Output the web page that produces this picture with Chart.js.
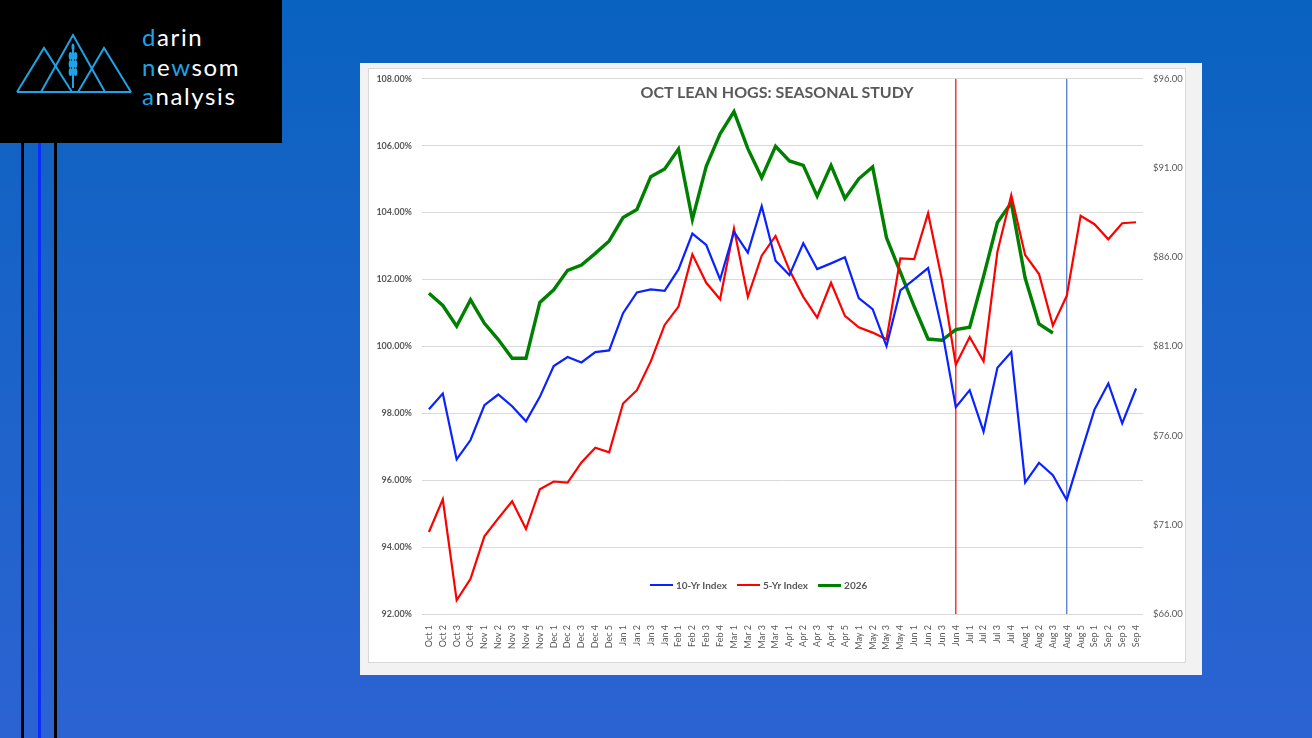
<!DOCTYPE html>
<html>
<head>
<meta charset="utf-8">
<title>Oct Lean Hogs: Seasonal Study</title>
<script src="https://cdn.jsdelivr.net/npm/chart.js@4.4.1/dist/chart.umd.min.js"></script>
<style>
  html, body { margin: 0; padding: 0; }
  body {
    width: 1312px; height: 738px; overflow: hidden; position: relative;
    background: linear-gradient(180deg, #0a62c0 0%, #1c63c9 50%, #2c63d3 100%);
    font-family: Lato, "Open Sans", sans-serif;
  }
  #logo { position: absolute; left: 0; top: 0; width: 282px; height: 143px; background: #000; }
  #logo .brand { position: absolute; left: 142px; top: 22px; color: #fff; font-size: 24px; line-height: 29.5px;
    font-weight: 400; letter-spacing: 1.6px; }
  #logo .brand b { color: #1ea3e6; font-weight: 400; }
  .vbar { position: absolute; top: 143px; bottom: 0; width: 3px; }
  #frame { position: absolute; left: 360px; top: 63px; width: 842px; height: 612px; background: #f2f2f2; }
  #inner { position: absolute; left: 368px; top: 68px; width: 816px; height: 593px; background: #fff; border: 1px solid #d9d9d9; }
  #chartTitle { position: absolute; left: 577px; width: 400px; top: 82px; text-align: center;
    font-weight: bold; font-size: 16px; color: #595959; }
  #legend { position: absolute; left: 640px; top: 578px; font-size: 10px; font-weight: bold; color: #595959; white-space: nowrap; }
  #legend span { display: inline-block; vertical-align: middle; }
  #legend .sw { width: 23px; margin: 0 3px 0 10px; }
</style>
</head>
<body>

<div id="logo">
  <svg width="140" height="143" style="position:absolute;left:0;top:0">
    <g fill="none" stroke="#1ea3e6" stroke-width="2">
      <path d="M17 92 L44 48 L72 92"/>
      <path d="M41 92 L73 35 L105 92"/>
      <path d="M78 92 L104 48 L131 92"/>
      <path d="M17 92 L131 92"/>
      <path d="M73 50 L73 88"/>
    </g>
    <g fill="#1ea3e6">
      <ellipse cx="70.5" cy="56" rx="1.8" ry="4"/><ellipse cx="75.5" cy="56" rx="1.8" ry="4"/>
      <ellipse cx="70.5" cy="64" rx="1.8" ry="4"/><ellipse cx="75.5" cy="64" rx="1.8" ry="4"/>
      <ellipse cx="70.5" cy="72" rx="1.8" ry="4"/><ellipse cx="75.5" cy="72" rx="1.8" ry="4"/>
      <ellipse cx="73" cy="47" rx="1.5" ry="3.5"/>
    </g>
  </svg>
  <div class="brand"><b>d</b>arin<br><b>n</b>e<b>w</b>som<br><b>a</b>nalysis</div>
</div>
<div class="vbar" style="left:21px;background:#000"></div>
<div class="vbar" style="left:38px;background:#0a2cff"></div>
<div class="vbar" style="left:54px;background:#000"></div>

<div id="frame"></div>
<div id="inner"></div>
<canvas id="seasonal" width="840" height="599" style="position:absolute;left:368px;top:63px"></canvas>
<div id="chartTitle">OCT LEAN HOGS: SEASONAL STUDY</div>
<div id="legend"></div>

<script>
// week labels, Oct through Sep
var weeks = ["Oct 1","Oct 2","Oct 3","Oct 4","Nov 1","Nov 2","Nov 3","Nov 4","Nov 5",
  "Dec 1","Dec 2","Dec 3","Dec 4","Dec 5","Jan 1","Jan 2","Jan 3","Jan 4",
  "Feb 1","Feb 2","Feb 3","Feb 4","Mar 1","Mar 2","Mar 3","Mar 4",
  "Apr 1","Apr 2","Apr 3","Apr 4","Apr 5","May 1","May 2","May 3","May 4",
  "Jun 1","Jun 2","Jun 3","Jun 4","Jul 1","Jul 2","Jul 3","Jul 4",
  "Aug 1","Aug 2","Aug 3","Aug 4","Aug 5","Sep 1","Sep 2","Sep 3","Sep 4"];

// index values (%)
var index10yr = [98.12,98.59,96.62,97.20,98.24,98.56,98.21,97.76,98.49,
  99.41,99.68,99.52,99.83,99.88,100.99,101.61,101.70,101.66,
  102.30,103.37,103.03,102.00,103.42,102.80,104.19,102.56,
  102.13,103.08,102.31,102.48,102.66,101.44,101.11,100.01,101.67,
  102.00,102.34,100.50,98.18,98.69,97.45,99.36,99.83,
  95.93,96.52,96.15,95.41,96.77,98.11,98.89,97.70,98.74];

var index5yr = [94.45,95.43,92.41,93.05,94.32,94.86,95.37,94.54,95.73,
  95.96,95.93,96.53,96.97,96.83,98.29,98.69,99.55,100.64,
  101.19,102.75,101.90,101.41,103.52,101.48,102.71,103.30,
  102.28,101.48,100.86,101.90,100.91,100.57,100.41,100.21,102.63,
  102.61,103.98,101.99,99.45,100.28,99.55,102.83,104.52,
  102.73,102.16,100.62,101.51,103.90,103.65,103.20,103.68,103.71];

// 2026 contract price ($, right axis)
var price2026 = [83.98,83.29,82.13,83.61,82.29,81.38,80.33,80.33,83.46,
  84.17,85.26,85.56,86.21,86.91,88.22,88.67,90.51,90.94,
  92.06,88.11,91.09,92.91,94.16,92.08,90.45,92.21,
  91.39,91.14,89.42,91.14,89.29,90.39,91.05,87.09,85.16,
  83.23,81.41,81.34,81.94,82.07,84.92,87.94,89.04,
  84.83,82.26,81.75,null,null,null,null,null,null];

// marker weeks for the vertical lines
var markerWeeks = ["Jun 4", "Aug 4"];
var markerColors = ["#ff0000", "#4472c4"];

var pctTicks = [92, 108, 2];
var dollarTicks = [66, 96, 5];

var gray = "#595959";

function markerData(week) {
  return [{ x: week, y: pctTicks[0] }, { x: week, y: pctTicks[1] }];
}

var series = [
  { label: "10-Yr Index", data: index10yr, borderColor: "#0a22ff", borderWidth: 2.2, yAxisID: "y" },
  { label: "5-Yr Index", data: index5yr, borderColor: "#ff0000", borderWidth: 2.2, yAxisID: "y" },
  { label: "2026", data: price2026, borderColor: "#008000", borderWidth: 3.4, yAxisID: "y1" }
];

var datasets = series.map(function (s) {
  return Object.assign({ pointRadius: 0, tension: 0, fill: false, spanGaps: false }, s);
});
markerWeeks.forEach(function (w, i) {
  datasets.push({
    label: "marker", data: markerData(w), borderColor: markerColors[i],
    borderWidth: 1.2, pointRadius: 0, yAxisID: "y"
  });
});

var ctx = document.getElementById("seasonal");
var seasonalChart = new Chart(ctx, {
  type: "line",
  data: { labels: weeks, datasets: datasets },
  options: {
    responsive: false,
    animation: false,
    layout: { padding: { top: 6, left: 0, right: 0, bottom: 0 } },
    plugins: { legend: { display: false }, tooltip: { enabled: false } },
    scales: {
      x: {
        offset: true,
        grid: { display: false },
        border: { display: false },
        ticks: {
          autoSkip: false, minRotation: 90, maxRotation: 90, padding: 3,
          color: gray, font: { family: "Lato", size: 9 }
        },
        afterFit: function (scale) { scale.height = 48; }
      },
      y: {
        position: "left",
        min: pctTicks[0], max: pctTicks[1],
        grid: { color: "#d9d9d9", lineWidth: 1, drawTicks: false },
        border: { display: false },
        ticks: {
          stepSize: pctTicks[2], padding: 10, color: gray,
          font: { family: "Lato", size: 9, weight: "bold" },
          callback: function (v) { return v.toFixed(2) + "%"; }
        },
        afterFit: function (scale) { scale.width = 54; }
      },
      y1: {
        position: "right",
        min: dollarTicks[0], max: dollarTicks[1],
        grid: { display: false, drawTicks: false },
        border: { display: false },
        ticks: {
          stepSize: dollarTicks[2], padding: 10, color: gray,
          font: { family: "Lato", size: 9.5 },
          callback: function (v) { return "$" + v.toFixed(2); }
        },
        afterFit: function (scale) { scale.width = 65; }
      }
    }
  }
});

// legend, built from the series
var legend = document.getElementById("legend");
series.forEach(function (s) {
  var sw = document.createElement("span");
  sw.className = "sw";
  sw.style.borderTop = (s.borderWidth > 3 ? 3.5 : 2.2) + "px solid " + s.borderColor;
  var txt = document.createElement("span");
  txt.textContent = s.label;
  legend.appendChild(sw);
  legend.appendChild(txt);
});
</script>
</body>
</html>
